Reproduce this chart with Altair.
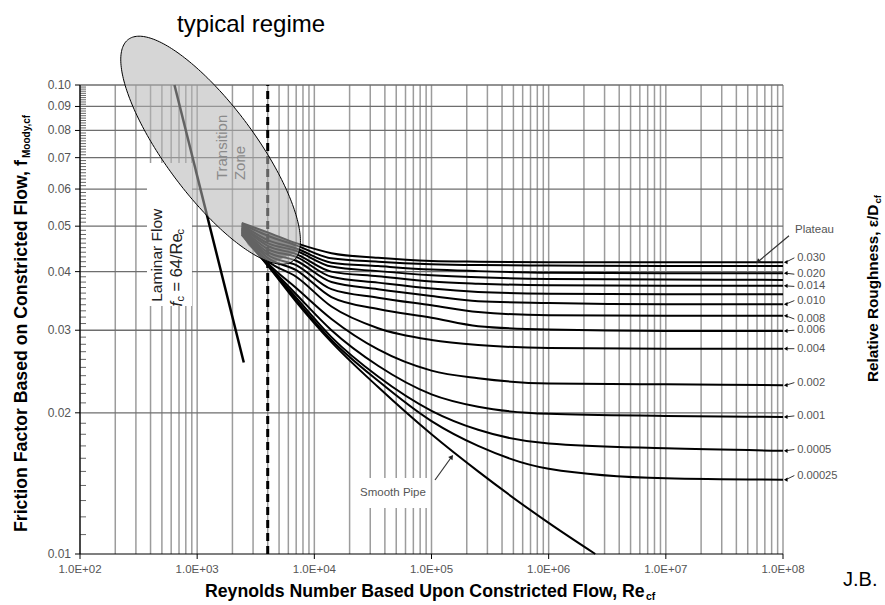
import altair as alt
import numpy as np
import pandas as pd

FONT = "Liberation Sans"
GREY = "#555555"

# ---------------------------------------------------------------- data
# Reynolds numbers at which the roughness curves are tabulated
RE = [2400, 4000, 7000, 14000, 35000, 100000, 250000, 1e6, 1e7, 1e8]

# friction factor for each relative roughness ε/D_cf
ROUGH_CURVES = {
    "0.030":   [0.0508, 0.0485, 0.0460, 0.0438, 0.0428, 0.04215, 0.0420, 0.0419, 0.0419, 0.0419],
    "0.025":   [0.0506, 0.0477, 0.0455, 0.0427, 0.0420, 0.0415, 0.0413, 0.0412, 0.0411, 0.0411],
    "0.020":   [0.0504, 0.0467, 0.0448, 0.0418, 0.0411, 0.0404, 0.0401, 0.0398, 0.0397, 0.0397],
    "0.017":   [0.0501, 0.0460, 0.0443, 0.0410, 0.0401, 0.0393, 0.0389, 0.0386, 0.0385, 0.0384],
    "0.014":   [0.0499, 0.0454, 0.0436, 0.0400, 0.0391, 0.0381, 0.0377, 0.0374, 0.0373, 0.0373],
    "0.012":   [0.0497, 0.0447, 0.0430, 0.0390, 0.0379, 0.0368, 0.0362, 0.0359, 0.0358, 0.0358],
    "0.010":   [0.0495, 0.0440, 0.0422, 0.0380, 0.0367, 0.0355, 0.0346, 0.0343, 0.0341, 0.0341],
    "0.008":   [0.0493, 0.0434, 0.0413, 0.0367, 0.0352, 0.0339, 0.0328, 0.0323, 0.0322, 0.0322],
    "0.006":   [0.0491, 0.0428, 0.0403, 0.0353, 0.0333, 0.0319, 0.0306, 0.0301, 0.0299, 0.0299],
    "0.004":   [0.0489, 0.04215, 0.0390, 0.0337, 0.0303, 0.0286, 0.0279, 0.0275, 0.0274, 0.0274],
    "0.002":   [0.0487, 0.0417, 0.0369, 0.0317, 0.0273, 0.0246, 0.0237, 0.0231, 0.0230, 0.0229],
    "0.001":   [0.0485, 0.0415, 0.0358, 0.0300, 0.0252, 0.0219, 0.0206, 0.0199, 0.0197, 0.0196],
    "0.0005":  [0.0483, 0.0413, 0.0352, 0.0290, 0.0239, 0.0202, 0.0184, 0.0172, 0.0168, 0.0166],
    "0.00025": [0.0481, 0.0413, 0.0348, 0.0286, 0.0234, 0.0192, 0.0170, 0.0152, 0.0145, 0.0144],
}

# smooth pipe curve
SMOOTH_RE = [2400, 4000, 7000, 14000, 35000, 1e5, 2.5e5, 1e6, 2.5e6]
SMOOTH_F = [0.0479, 0.0412, 0.0345, 0.0283, 0.0227, 0.0180, 0.0150, 0.01165, 0.0100]

# laminar flow, f_c = 64/Re_c
LAMINAR_RE = [640, 2500]
LAMINAR_F = [0.100, 0.0256]

# start of turbulent flow (dashed line)
TURBULENT_START_RE = 4000

# dense band of curves inside the transition zone
PATCH_RE = [2413, 2716, 4023, 6975]
PATCH_TOP = [0.0508, 0.0503, 0.0485, 0.0460]
PATCH_BOT = [0.0479, 0.0456, 0.0413, 0.0440]

# right-hand roughness labels: text, label height, curve end height
LABELS = ["0.030", "0.020", "0.014", "0.010", "0.008", "0.006",
          "0.004", "0.002", "0.001", "0.0005", "0.00025"]
LABEL_F = [0.0428, 0.0395, 0.0372, 0.0347, 0.0317, 0.0300,
           0.0274, 0.0232, 0.0197, 0.0167, 0.0147]
LABEL_END_F = [0.0419, 0.0397, 0.0373, 0.0341, 0.0322, 0.0299,
               0.0274, 0.0229, 0.0196, 0.0166, 0.0144]

# axis ticks and their labels
X_TICKS = [1e2, 1e3, 1e4, 1e5, 1e6, 1e7, 1e8]
X_LABELS = ["1.0E+02", "1.0E+03", "1.0E+04", "1.0E+05", "1.0E+06", "1.0E+07", "1.0E+08"]
Y_TICKS = [0.01, 0.02, 0.03, 0.04, 0.05, 0.06, 0.07, 0.08, 0.09, 0.10]
Y_LABELS = ["0.01", "0.02", "0.03", "0.04", "0.05", "0.06", "0.07", "0.08", "0.09", "0.10"]
Y_MINOR = [round(0.001 * k, 3) for k in range(11, 100) if k % 10 != 0]
GRID_RE = [k * 10.0 ** n for n in range(2, 8) for k in range(1, 10)] + [1e8]
H_GRID_F = Y_TICKS[1:]

# "typical regime" ellipse: centre and semi-axes in decades (log Re, log f)
ELL_CENTER = (1302, 0.0726)
ELL_MAJOR = (0.702, -0.2363)
ELL_MINOR = (0.3084, 0.0572)

W, H = 703, 469

# ---------------------------------------------------------------- scales
xs = alt.Scale(type="log", domain=[1e2, 1e8], nice=False)
ys = alt.Scale(type="log", domain=[0.01, 0.1], nice=False)


def X(field):
    return alt.X(field, type="quantitative", scale=xs, axis=None)


def Y(field):
    return alt.Y(field, type="quantitative", scale=ys, axis=None)


one_row = pd.DataFrame({"a": [0]})

# ---------------------------------------------------------------- grid
vgrid = alt.Chart(pd.DataFrame({"re": GRID_RE, "f0": 0.01, "f1": 0.1})).mark_rule(
    color="#9c9c9c", strokeWidth=1.5
).encode(x=X("re"), y=Y("f0"), y2="f1")

hgrid = alt.Chart(pd.DataFrame({"f": H_GRID_F, "r0": 1e2, "r1": 1e8})).mark_rule(
    color="#6e6e6e", strokeWidth=1.3
).encode(x=X("r0"), x2="r1", y=Y("f"))

minor = alt.Chart(pd.DataFrame({"f": Y_MINOR})).mark_rule(
    color="#666666", strokeWidth=1
).encode(y=Y("f"), x=alt.value(0), x2=alt.value(6))

# white label boxes that hide the grid
boxes = alt.Chart(pd.DataFrame({
    "r0": [373, 22200], "r1": [903, 95000],
    "f0": [0.0338, 0.01253], "f1": [0.0682, 0.01452],
})).mark_rect(color="white").encode(x=X("r0"), x2="r1", y=Y("f0"), y2="f1")

# ---------------------------------------------------------------- axes
domain_left = alt.Chart(one_row).mark_rule(color="black", strokeWidth=1.2).encode(
    x=alt.value(0), y=alt.value(0), y2=alt.value(H))
domain_bottom = alt.Chart(one_row).mark_rule(color="black", strokeWidth=1.2).encode(
    y=alt.value(H), x=alt.value(0), x2=alt.value(W))

x_axis_df = pd.DataFrame({"re": X_TICKS, "t": X_LABELS})
x_ticks = alt.Chart(x_axis_df).mark_rule(color="black", strokeWidth=1).encode(
    x=X("re"), y=alt.value(H), y2=alt.value(H + 5))
x_labels = alt.Chart(x_axis_df).mark_text(
    font=FONT, fontSize=11.5, color=GREY, align="center", baseline="middle"
).encode(x=X("re"), y=alt.value(H + 16), text="t:N")

y_axis_df = pd.DataFrame({"f": Y_TICKS, "t": Y_LABELS})
y_ticks = alt.Chart(y_axis_df).mark_rule(color="black", strokeWidth=1).encode(
    y=Y("f"), x=alt.value(-5), x2=alt.value(0))
y_labels = alt.Chart(y_axis_df).mark_text(
    font=FONT, fontSize=12, color=GREY, align="right", baseline="middle"
).encode(y=Y("f"), x=alt.value(-9), text="t:N")

# ---------------------------------------------------------------- curves
rows = []
for name, fs in ROUGH_CURVES.items():
    for i, (r, f) in enumerate(zip(RE, fs)):
        rows.append({"series": name, "re": r, "f": f, "i": i})
for i, (r, f) in enumerate(zip(SMOOTH_RE, SMOOTH_F)):
    rows.append({"series": "smooth", "re": r, "f": f, "i": i})
curves_df = pd.DataFrame(rows)

patch = alt.Chart(pd.DataFrame({"re": PATCH_RE, "top": PATCH_TOP, "bot": PATCH_BOT})).mark_area(
    color="#4a4a4a", opacity=0.9
).encode(x=X("re"), y=Y("top"), y2="bot")

curves = alt.Chart(curves_df).mark_line(
    color="black", strokeWidth=2, interpolate="monotone"
).encode(x=X("re"), y=Y("f"), detail="series:N", order="i:Q")

laminar = alt.Chart(pd.DataFrame({"re": LAMINAR_RE, "f": LAMINAR_F})).mark_line(
    color="black", strokeWidth=2.5
).encode(x=X("re"), y=Y("f"))

dashed = alt.Chart(pd.DataFrame({"re": [TURBULENT_START_RE], "f0": [0.01], "f1": [0.1]})).mark_rule(
    color="black", strokeWidth=3, strokeDash=[8, 5]
).encode(x=X("re"), y=Y("f0"), y2="f1")

# ---------------------------------------------------------------- ellipse
t = np.linspace(0, 2 * np.pi, 241)
lx = np.log10(ELL_CENTER[0]) + ELL_MAJOR[0] * np.cos(t) + ELL_MINOR[0] * np.sin(t)
ly = np.log10(ELL_CENTER[1]) + ELL_MAJOR[1] * np.cos(t) + ELL_MINOR[1] * np.sin(t)
ell_df = pd.DataFrame({"re": 10 ** lx, "f": 10 ** ly, "i": np.arange(len(t))})

ellipse = alt.Chart(ell_df).mark_line(
    fill="#b5b5b5", fillOpacity=0.55, stroke="black", strokeWidth=1
).encode(x=X("re"), y=Y("f"), order="i:Q")

# ---------------------------------------------------------------- in-plot text
transition = alt.Chart(pd.DataFrame({"re": [1629, 2321], "f": [0.0627, 0.0627],
                                     "t": ["Transition", "Zone"]})).mark_text(
    angle=270, align="left", baseline="middle", font=FONT, fontSize=15, color="#8a8a8a"
).encode(x=X("re"), y=Y("f"), text="t:N")

laminar_lbl = alt.Chart(pd.DataFrame({"re": [457], "f": [0.0345]})).mark_text(
    angle=270, align="left", baseline="middle", font=FONT, fontSize=15.5,
    color="#222222", text="Laminar Flow"
).encode(x=X("re"), y=Y("f"))


def eq_part(text, size, dx=0, dy=0, style="normal"):
    return alt.Chart(pd.DataFrame({"re": [673], "f": [0.0337]})).mark_text(
        angle=270, align="left", baseline="middle", font=FONT, fontSize=size,
        fontStyle=style, color="#222222", text=text, dx=dx, dy=dy
    ).encode(x=X("re"), y=Y("f"))


equation = [
    eq_part("f", 16.5, style="italic"),
    eq_part("c", 11, dx=5, dy=4),
    eq_part("= 64/Re", 16.5, dx=15),
    eq_part("c", 11, dx=72, dy=4),
]

smooth_lbl = alt.Chart(pd.DataFrame({"re": [46900], "f": [0.01347]})).mark_text(
    font=FONT, fontSize=11.5, color=GREY, align="center", baseline="middle", text="Smooth Pipe"
).encode(x=X("re"), y=Y("f"))

# pointer arrows: shaft and head
arrows_df = pd.DataFrame({"r0": [1.071e5, 1.125e8], "f0": [0.01438, 0.0477],
                          "r1": [1.487e5, 6.116e7], "f1": [0.01612, 0.0420],
                          "ang": [36, 230]})
arrow_shaft = alt.Chart(arrows_df).mark_rule(color="#333333", strokeWidth=1.2).encode(
    x=X("r0"), y=Y("f0"), x2="r1", y2="f1")
arrow_head = alt.Chart(arrows_df).mark_point(
    shape="triangle-up", filled=True, color="#222222", size=28, opacity=1
).encode(x=X("r1"), y=Y("f1"), angle=alt.Angle("ang:Q", scale=None))

plateau_lbl = alt.Chart(pd.DataFrame({"re": [1.266e8], "f": [0.0491]})).mark_text(
    font=FONT, fontSize=11.5, color=GREY, align="left", baseline="middle", text="Plateau"
).encode(x=X("re"), y=Y("f"))

lab_df = pd.DataFrame({"t": LABELS, "f": LABEL_F, "fe": LABEL_END_F,
                       "rl": 1.32e8, "ra": 1.25e8, "rh": 1.055e8})
lab_text = alt.Chart(lab_df).mark_text(
    font=FONT, fontSize=11.2, color=GREY, align="left", baseline="middle"
).encode(x=X("rl"), y=Y("f"), text="t:N")
lab_shaft = alt.Chart(lab_df).mark_rule(color="#333333", strokeWidth=1).encode(
    x=X("ra"), y=Y("f"), x2="rh", y2="fe")
lab_head = alt.Chart(lab_df).mark_point(
    shape="triangle-left", filled=True, color="black", size=18, opacity=1
).encode(x=X("rh"), y=Y("fe"))

# ---------------------------------------------------------------- titles
def title_text(text, x, y, size, angle=0, dx=0, dy=0, weight="bold", baseline="middle"):
    return alt.Chart(one_row).mark_text(
        text=text, font=FONT, fontSize=size, fontWeight=weight, color="black",
        align="left", baseline=baseline, angle=angle, dx=dx, dy=dy
    ).encode(x=alt.value(x), y=alt.value(y))


titles = [
    title_text("typical regime", 97, -53, 24, weight="normal", baseline="alphabetic"),
    title_text("Reynolds Number Based Upon Constricted Flow, Re", 125, 507, 17.7),
    title_text("cf", 125, 507, 10.5, dx=441, dy=5),
    title_text("Friction Factor Based on Constricted Flow, f", -58, 447, 17.7, angle=270),
    title_text("Moody,cf", -58, 447, 10, angle=270, dx=374, dy=5),
    title_text("Relative Roughness, \u03b5/D", 793, 297, 15.3, angle=270),
    title_text("cf", 793, 297, 9.5, angle=270, dx=178.5, dy=4.5),
    title_text("J.B.", 763, 495, 20, weight="normal"),
]

chart = alt.layer(
    vgrid, hgrid, minor, boxes,
    patch, curves, laminar, dashed,
    ellipse, transition,
    laminar_lbl, *equation,
    smooth_lbl, arrow_shaft, arrow_head, plateau_lbl,
    lab_shaft, lab_head, lab_text,
    domain_left, domain_bottom, x_ticks, x_labels, y_ticks, y_labels,
    *titles,
).properties(
    width=W, height=H,
    autosize=alt.AutoSizeParams(type="none"),
    padding={"left": 80, "top": 85, "right": 102, "bottom": 51},
    background="white",
).configure_view(stroke=None)

chart.save("out.html", embed_options={"renderer": "svg", "actions": False})
